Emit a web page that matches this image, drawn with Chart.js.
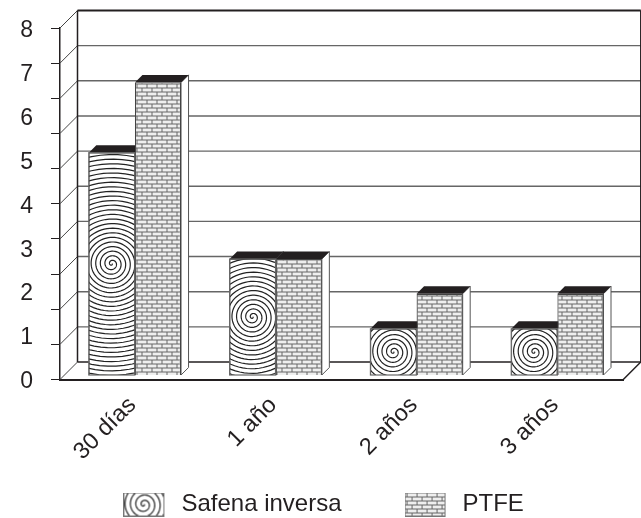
<!DOCTYPE html>
<html>
<head>
<meta charset="utf-8">
<title>Safena inversa vs PTFE</title>
<script src="https://cdn.jsdelivr.net/npm/chart.js@4/dist/chart.umd.min.js"></script>
<style>
  html, body { margin: 0; padding: 0; background: #fff; }
  canvas { display: block; }
</style>
</head>
<body>
<canvas id="chart" width="641" height="518"></canvas>
<script>
const categories = ['30 días', '1 año', '2 años', '3 años'];
const safenaValues = [5.06, 2.64, 1.05, 1.05];
const ptfeValues = [6.66, 2.64, 1.85, 1.85];
const seriesNames = ['Safena inversa', 'PTFE'];

const INK = '#231f20';
const PLOT_TOP = 28;
const WALL_DEPTH = 17.5;  // floor and back wall offset
const BAR_SHIFT = 4.5;    // bars stand a little behind the front plane
const BAR_DEPTH = 7.5;

// Spiral hatch, centred on whatever box it fills
function drawSpiral(ctx, cx, cy, maxRadius, pitch, lineWidth) {
    ctx.beginPath();
    for (let t = 0; t < maxRadius / pitch * Math.PI * 2; t += 0.08) {
        const r = pitch * t / (Math.PI * 2);
        const px = cx + r * Math.cos(t);
        const py = cy + r * Math.sin(t);
        if (t === 0) ctx.moveTo(px, py); else ctx.lineTo(px, py);
    }
    ctx.strokeStyle = '#222';
    ctx.lineWidth = lineWidth;
    ctx.stroke();
}

function brickPattern() {
    const tile = document.createElement('canvas');
    tile.width = 10;
    tile.height = 8;
    const c = tile.getContext('2d');
    c.fillStyle = '#eee';
    c.fillRect(0, 0, 10, 8);
    c.fillStyle = '#666';
    c.fillRect(0, 0, 10, 1);
    c.fillRect(0, 4, 10, 1);
    c.fillRect(2, 0, 1, 4);
    c.fillRect(7, 4, 1, 4);
    return tile;
}

const brickTile = brickPattern();
const brickFill = document.createElement('canvas').getContext('2d').createPattern(brickTile, 'repeat');

// Legend swatches, a bit wider than the box so the text sits further away
function legendSwatch(kind) {
    const sw = document.createElement('canvas');
    sw.width = 46;
    sw.height = 24;
    const c = sw.getContext('2d');
    c.save();
    c.beginPath();
    c.rect(0, 0, 41, 24);
    c.clip();
    c.fillStyle = '#fff';
    c.fillRect(0, 0, 41, 24);
    if (kind === 'spiral') {
        drawSpiral(c, 20.5, 12, 24, 5.4, 1.2);
    } else {
        c.fillStyle = c.createPattern(brickTile, 'repeat');
        c.fillRect(0, 0, 41, 24);
    }
    c.restore();
    c.strokeStyle = '#777';
    c.strokeRect(0.5, 0.5, 40, 23);
    return sw;
}

const swatches = [legendSwatch('spiral'), legendSwatch('brick')];

const threeDeePlugin = {
    id: 'threeDee',
    afterLayout(chart) {
        // rotated labels hang below the short x scale box, which would clip them
        chart.scales.x.bottom = chart.height;
        // same for the y labels on the left
        chart.scales.y.left = 0;
        // pin the top of the plot
        chart.chartArea.top = PLOT_TOP;
        ['y', 'yGrid'].forEach(id => {
            const s = chart.scales[id];
            s.top = PLOT_TOP;
            s.height = s.bottom - PLOT_TOP;
            s.configure();
        });
    },
    beforeDatasetsDraw(chart) {
        const { ctx, chartArea: area, scales } = chart;
        const grid = scales.yGrid;
        const d = WALL_DEPTH;

        ctx.save();
        // back wall lines and side wall diagonals
        grid.ticks.forEach(tick => {
            const y = grid.getPixelForValue(tick.value);
            ctx.beginPath();
            ctx.moveTo(area.left, y);
            ctx.lineTo(area.left + d, y - d);
            ctx.lineWidth = 1;
            ctx.strokeStyle = '#444';
            ctx.stroke();
            ctx.beginPath();
            ctx.moveTo(area.left + d, y - d);
            ctx.lineTo(area.right + d, y - d);
            ctx.lineWidth = tick.value === 10 ? 2 : 1.4;
            ctx.strokeStyle = tick.value === 10 || tick.value === 0 ? INK : '#666';
            ctx.stroke();
        });
        ctx.strokeStyle = INK;
        ctx.lineWidth = 1.5;
        ctx.beginPath();
        ctx.moveTo(area.left + d, area.top - d);
        ctx.lineTo(area.left + d, area.bottom - d);
        ctx.moveTo(area.right + d, area.top - d);
        ctx.lineTo(area.right + d, area.bottom - d);
        ctx.lineTo(area.right, area.bottom);
        ctx.stroke();
        ctx.restore();

        // bars are drawn shifted back; restored in afterDatasetsDraw
        ctx.save();
        ctx.translate(BAR_SHIFT, -BAR_SHIFT);
        chart.data.datasets.forEach((ds, i) => {
            chart.getDatasetMeta(i).data.forEach(bar => {
                const left = bar.x - bar.width / 2;
                const right = bar.x + bar.width / 2;
                const b = BAR_DEPTH;
                // side face
                ctx.beginPath();
                ctx.moveTo(right, bar.y);
                ctx.lineTo(right + b, bar.y - b);
                ctx.lineTo(right + b, bar.base - b);
                ctx.lineTo(right, bar.base);
                ctx.closePath();
                ctx.fillStyle = '#fff';
                ctx.fill();
                ctx.strokeStyle = '#555';
                ctx.lineWidth = 1;
                ctx.stroke();
                // top face
                ctx.beginPath();
                ctx.moveTo(left, bar.y);
                ctx.lineTo(left + b, bar.y - b);
                ctx.lineTo(right + b, bar.y - b);
                ctx.lineTo(right, bar.y);
                ctx.closePath();
                ctx.fillStyle = INK;
                ctx.fill();
            });
        });
    },
    afterDatasetsDraw(chart) {
        const { ctx } = chart;
        chart.getDatasetMeta(0).data.forEach(bar => {
            const left = bar.x - bar.width / 2;
            const h = bar.base - bar.y;
            ctx.save();
            ctx.beginPath();
            ctx.rect(left, bar.y, bar.width, h);
            ctx.clip();
            drawSpiral(ctx, bar.x, bar.y + h / 2, Math.hypot(bar.width, h) / 2 + 4, 4.6, 1.2);
            ctx.restore();
            ctx.strokeStyle = '#666';
            ctx.lineWidth = 1.2;
            ctx.strokeRect(left, bar.y, bar.width, h);
        });
        ctx.restore();
    }
};

new Chart(document.getElementById('chart'), {
    type: 'bar',
    data: {
        labels: categories,
        datasets: [
            { label: seriesNames[0], data: safenaValues, yAxisID: 'y', backgroundColor: '#fff', borderColor: '#666', borderWidth: 1, categoryPercentage: 0.655, barPercentage: 1, clip: false },
            { label: seriesNames[1], data: ptfeValues, yAxisID: 'y', backgroundColor: brickFill, borderColor: '#444', borderWidth: 1.2, categoryPercentage: 0.655, barPercentage: 1, clip: false }
        ]
    },
    options: {
        responsive: false,
        animation: false,
        layout: { autoPadding: false, padding: { top: 12, right: 17.7, left: 24, bottom: -8.5 } },
        scales: {
            x: {
                grid: { display: false },
                border: { color: INK, width: 2 },
                ticks: {
                    color: INK,
                    font: { family: 'Liberation Sans', size: 23.5 },
                    minRotation: 45,
                    maxRotation: 45,
                    padding: 4,
                    labelOffset: 2
                },
                afterFit(scale) { scale.height = 50; }
            },
            // the labelled axis, 0 to 8
            y: {
                min: 0,
                max: 8,
                weight: 1,
                grid: { display: false },
                border: { display: false },
                ticks: {
                    stepSize: 1,
                    color: INK,
                    font: { family: 'Liberation Sans', size: 23 },
                    padding: 19,
                    labelOffset: 2.5
                },
                afterFit(scale) { scale.width = 36; }
            },
            // tick marks and wall lines have their own ten divisions
            yGrid: {
                position: 'left',
                min: 0,
                max: 10,
                weight: 0,
                grid: { drawOnChartArea: false, tickLength: 9, color: INK, lineWidth: 1 },
                border: { color: INK, width: 1.5 },
                ticks: { stepSize: 1, display: false },
                afterFit(scale) { scale.width = 0; }
            }
        },
        plugins: {
            tooltip: { enabled: false },
            legend: {
                position: 'bottom',
                labels: {
                    color: INK,
                    font: { family: 'Liberation Sans', size: 24 },
                    usePointStyle: true,
                    pointStyleWidth: 46,
                    padding: 63,
                    generateLabels: () => seriesNames.map((name, i) => ({
                        text: name,
                        pointStyle: swatches[i],
                        datasetIndex: i,
                        lineWidth: 0,
                        fontColor: INK
                    }))
                }
            }
        }
    },
    plugins: [threeDeePlugin]
});
</script>
</body>
</html>
